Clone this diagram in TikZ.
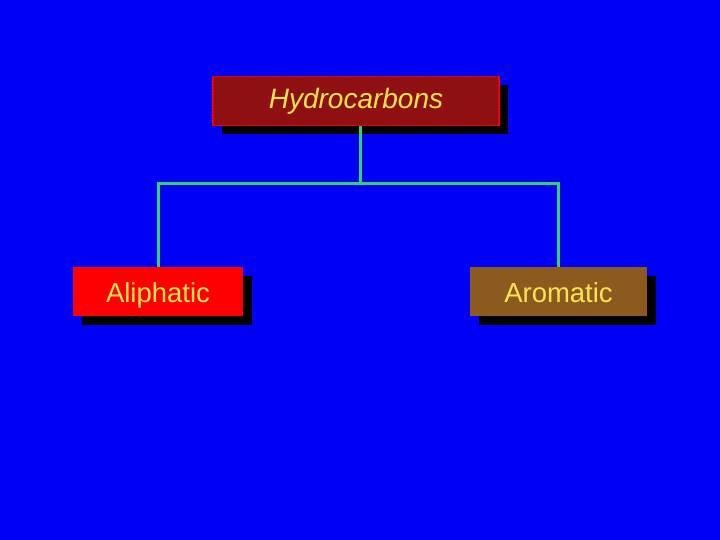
\documentclass[tikz,border=0pt]{standalone}
\usepackage{fontspec}
\setmainfont{Liberation Sans}
\usetikzlibrary{patterns,shadows}
\definecolor{bg}{RGB}{0,0,245}
\definecolor{link}{RGB}{50,210,100}
\definecolor{hcred}{RGB}{120,26,28}
\definecolor{alred}{RGB}{255,0,0}
\definecolor{arbrown}{RGB}{140,90,30}
\definecolor{txt}{RGB}{255,230,80}

\begin{document}
\begin{tikzpicture}[
  x=1pt,y=-1pt,
  box/.style={minimum height=49pt,inner sep=0pt,text=txt,
    font=\fontsize{27.5}{30}\selectfont,text height=21pt,text depth=0pt,
    drop shadow={shadow xshift=9pt,shadow yshift=-9pt,fill=black,opacity=1}},
  edge/.style={link,line width=3pt}
]
  \fill[bg] (0,0) rectangle (720,540);

  \node[box,minimum width=286pt,fill=hcred,draw=red,line width=1.2pt,
        postaction={pattern=north east lines,pattern color=red!75!black},
        font=\itshape\fontsize{28}{30}\selectfont,text height=20pt,text depth=4pt]
        (hc) at (356,101) {Hydrocarbons};
  \node[box,minimum width=170pt,fill=alred] (al) at (158,291.5) {Aliphatic};
  \node[box,minimum width=177pt,fill=arbrown] (ar) at (558.5,291.5) {Aromatic};

  \coordinate (j) at (360,184);
  \draw[edge] (j |- hc.south) -- (j);
  \draw[edge] (al.north) |- (j) -| (ar.north);
\end{tikzpicture}
\end{document}
